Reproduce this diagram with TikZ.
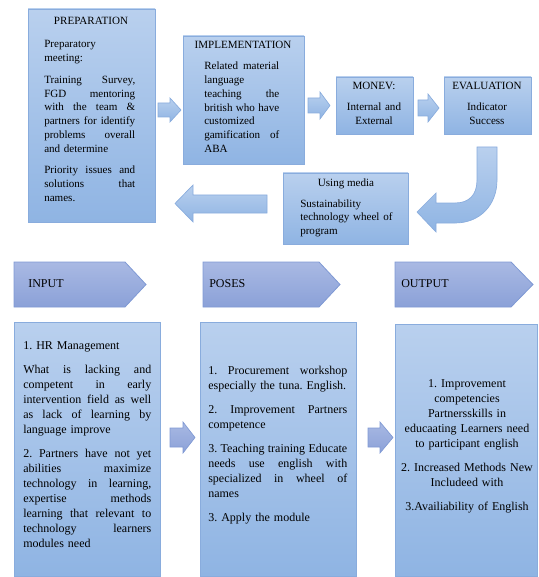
\documentclass[tikz,border=0pt]{standalone}
\usepackage{fontspec}
\setmainfont{Liberation Serif}
\usetikzlibrary{fit}
\definecolor{boxtop}{HTML}{B9D0EE}
\definecolor{boxbot}{HTML}{8FB4E3}
\definecolor{boxline}{HTML}{89ACDD}
\definecolor{chevtop}{HTML}{A9B9E3}
\definecolor{chevbot}{HTML}{8BA1D8}
\definecolor{chevline}{HTML}{7F99D4}
\newcommand{\jl}[1]{\makebox[\hsize][s]{\spaceskip=.25em plus 1fil\relax #1}}
\frenchspacing

\begin{document}
\begin{tikzpicture}[x=0.75pt, y=-0.75pt,
  box/.style={draw=boxline, line width=0.6pt, top color=boxtop, bottom color=boxbot, inner sep=0pt},
  chev/.style={draw=chevline, line width=0.6pt, top color=chevtop, bottom color=chevbot},
  upblock/.style={draw=boxline, line width=0.5pt, top color=boxtop, bottom color=boxbot},
  lowblock/.style={draw=chevline, line width=0.5pt, top color=chevtop, bottom color=chevbot},
  small/.style={font=\fontsize{8.3}{10.3}\selectfont, inner sep=0pt},
  big/.style={font=\fontsize{9}{11.25}\selectfont, inner sep=0pt}]
\useasboundingbox (0,0) rectangle (538,577);

% boxes of the upper cycle
\node[box, fit={(28,9) (155,222)}] (prep) {};
\node[box, fit={(183,36) (304,164)}] (impl) {};
\node[box, fit={(336,77) (413,134)}] (monev) {};
\node[box, fit={(444,77) (531,134)}] (eval) {};
\node[box, fit={(283,173) (408,244)}] (media) {};

% block arrows
\foreach \xa/\xb/\xc/\yc/\hs/\hh/\st in {158/170/181/110/7/12/upblock, 308/320/330/105.5/7.5/13.5/upblock, 418/428/439/108/8/14/upblock, 170/183/195/437.5/9.5/15.5/lowblock, 368/380/393/437.5/9.5/15.5/lowblock} {
  \path[\st] (\xa,\yc-\hs) -- (\xb,\yc-\hs) -- (\xb,\yc-\hh) -- (\xc,\yc) -- (\xb,\yc+\hh) -- (\xb,\yc+\hs) -- (\xa,\yc+\hs) -- cycle;
}
\path[upblock] (477,147) -- (497,147) -- (497,180) .. controls (497,205) and (480,223) .. (455,223)
  -- (436,223) -- (436,232) -- (417,212) -- (436,193) -- (436,203) -- (455,203)
  .. controls (469,203) and (477,195) .. (477,180) -- cycle;
\path[upblock] (267,195) -- (193,195) -- (193,185) -- (175,203.5) -- (193,222) -- (193,213) -- (267,213) -- cycle;

% chevrons
\foreach \xa/\xp/\xt/\xl/\lab/\n in {14/125/146/28/INPUT/inp, 203/319/340/209/POSES/pos, 395/511/533/401/OUTPUT/outp} {
  \path[chev] (\xa,262) -- (\xp,262) -- (\xt,284.5) -- (\xp,307) -- (\xa,307) -- cycle;
  \node[big, anchor=base west] (\n) at (\xl,287.5) {\lab};
}

% lower boxes
\node[box, fit={(14,322) (160,576)}] (inbox) {};
\node[box, fit={(200,322) (356,576)}] (posbox) {};
\node[box, fit={(395,324) (537,576)}] (outbox) {};

% texts, upper part
\node[small, anchor=base] (prepttl) at (91,25) {PREPARATION};
\node[small, anchor=base west, text width=68.25pt, align=left] (preptxt) at (44,48) {Preparatory\\
meeting:\\[6pt]
\jl{Training Survey,}\\
\jl{FGD mentoring}\\
\jl{with the team \&}\\
\jl{partners for identify}\\
\jl{problems overall}\\
and determine\\[6pt]
\jl{Priority issues and}\\
\jl{solutions that}\\
names.};
\node[small, anchor=base] (implttl) at (243,49) {IMPLEMENTATION};
\node[small, anchor=base west, text width=56.25pt, align=left] (impltxt) at (204,70) {\jl{Related material}\\
language\\
\jl{teaching the}\\
\jl{british who have}\\
customized\\
\jl{gamification of}\\
ABA};
\node[small, anchor=base] (monevttl) at (374,90) {MONEV:};
\node[small, anchor=base, text width=60pt, align=center] (monevtxt) at (374,111) {Internal and\\External};
\node[small, anchor=base] (evalttl) at (487,90) {EVALUATION};
\node[small, anchor=base, text width=60pt, align=center] (evaltxt) at (487,111) {Indicator\\Success};
\node[small, anchor=base] (mediattl) at (346,186) {Using media};
\node[small, anchor=base west, text width=72pt, align=left] (mediatxt) at (300,207) {Sustainability\\
technology wheel of\\
program};

% texts, lower part
\node[big, anchor=base west, text width=96pt, align=left] (intxt) at (23,349) {1. HR Management\\[6.75pt]
\jl{What is lacking and}\\
\jl{competent in early}\\
\jl{intervention field as well}\\
\jl{as lack of learning by}\\
language improve\\[6.75pt]
\jl{2. Partners have not yet}\\
\jl{abilities maximize}\\
\jl{technology in learning,}\\
\jl{expertise methods}\\
\jl{learning that relevant to}\\
\jl{technology learners}\\
modules need};
\node[big, anchor=base west, text width=104.25pt, align=left] (postxt) at (208,374) {\jl{1. Procurement workshop}\\
\mbox{especially the tuna. English.}\\[6.75pt]
\jl{2. Improvement Partners}\\
competence\\[6.75pt]
\jl{3. Teaching training Educate}\\
\jl{needs use english with}\\
\jl{specialized in wheel of}\\
names\\[6.75pt]
3. Apply the module};
\node[big, anchor=base, text width=110pt, align=center] (outtxt) at (467,387) {1. Improvement\\
competencies\\
Partnersskills in\\
educaating Learners need\\
to participant english\\[6.75pt]
2. Increased Methods New\\
Includeed with\\[6.75pt]
3.Availiability of English};
\end{tikzpicture}
\end{document}
